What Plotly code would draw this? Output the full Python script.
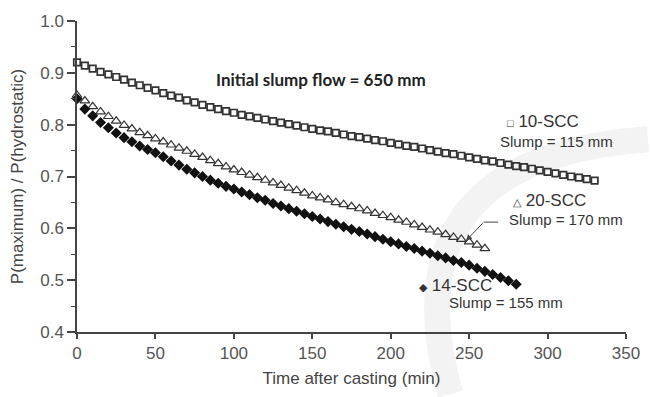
import plotly.graph_objects as go

# Time after casting (min), 5-min readings
t_10 = [i * 5 for i in range(67)]   # 0..330
t_20 = [i * 5 for i in range(53)]   # 0..260
t_14 = [i * 5 for i in range(57)]   # 0..280

scc10 = [0.920, 0.914, 0.908, 0.902, 0.897, 0.892, 0.887, 0.881, 0.876, 0.871,
         0.866, 0.861, 0.856, 0.852, 0.847, 0.843, 0.838, 0.834, 0.830, 0.826,
         0.823, 0.819, 0.816, 0.813, 0.810, 0.807, 0.804, 0.801, 0.798, 0.795,
         0.792, 0.789, 0.787, 0.784, 0.781, 0.778, 0.776, 0.773, 0.770, 0.768,
         0.765, 0.762, 0.759, 0.757, 0.754, 0.751, 0.748, 0.745, 0.743, 0.740,
         0.737, 0.734, 0.731, 0.729, 0.726, 0.723, 0.720, 0.718, 0.715, 0.712,
         0.709, 0.706, 0.703, 0.700, 0.698, 0.695, 0.692]

scc20 = [0.857, 0.846, 0.835, 0.825, 0.816, 0.807, 0.799, 0.792, 0.785, 0.779,
         0.773, 0.767, 0.761, 0.755, 0.749, 0.743, 0.737, 0.731, 0.725, 0.719,
         0.713, 0.708, 0.703, 0.698, 0.693, 0.688, 0.683, 0.678, 0.673, 0.668,
         0.663, 0.659, 0.655, 0.650, 0.646, 0.642, 0.638, 0.634, 0.629, 0.625,
         0.621, 0.616, 0.612, 0.607, 0.602, 0.597, 0.593, 0.588, 0.583, 0.579,
         0.574, 0.568, 0.561]

scc14 = [0.850, 0.830, 0.817, 0.804, 0.794, 0.784, 0.775, 0.767, 0.759, 0.752,
         0.746, 0.738, 0.730, 0.722, 0.714, 0.707, 0.700, 0.693, 0.687, 0.681,
         0.676, 0.670, 0.665, 0.659, 0.654, 0.648, 0.643, 0.638, 0.633, 0.628,
         0.623, 0.618, 0.613, 0.608, 0.603, 0.598, 0.594, 0.589, 0.584, 0.579,
         0.574, 0.570, 0.565, 0.561, 0.556, 0.552, 0.547, 0.543, 0.538, 0.534,
         0.529, 0.523, 0.517, 0.511, 0.505, 0.499, 0.492]

x_ticks = [0, 50, 100, 150, 200, 250, 300, 350]
y_ticks = [0.4, 0.5, 0.6, 0.7, 0.8, 0.9, 1.0]

DARK = "#333333"
FONT = "Liberation Sans, Arial, sans-serif"

fig = go.Figure()
fig.add_trace(go.Scatter(x=t_10, y=scc10, mode="markers", cliponaxis=False,
                         marker=dict(symbol="square-open", size=6.5, color=DARK,
                                     line=dict(width=1.7, color=DARK))))
fig.add_trace(go.Scatter(x=t_20, y=scc20, mode="markers", cliponaxis=False,
                         marker=dict(symbol="triangle-up-open", size=8.5, color=DARK,
                                     line=dict(width=1.2, color=DARK))))
fig.add_trace(go.Scatter(x=t_14, y=scc14, mode="markers", cliponaxis=False,
                         marker=dict(symbol="diamond", size=8.5, color="#111111",
                                     line=dict(width=0))))

def label(x, y, text, size=17):
    fig.add_annotation(x=x, y=y, xref="x", yref="y", text=text, showarrow=False,
                       xanchor="left", yanchor="middle",
                       font=dict(family=FONT, size=size, color="#333333"))

label(273, 0.807, '<span style="font-size:11px">□</span> 10-SCC')
label(268.5, 0.768, "Slump = 115 mm", 15)
label(277, 0.654, '<span style="font-size:11px">△</span> 20-SCC')
label(274, 0.617, "Slump = 170 mm", 15)
label(217, 0.489, '<span style="font-size:11px">◆</span> 14-SCC')
label(236, 0.456, "Slump = 155 mm", 15)

fig.add_annotation(x=155.5, y=0.888, xref="x", yref="y",
                   text="<b>Initial slump flow = 650 mm</b>", showarrow=False,
                   font=dict(family="Lato, Open Sans, sans-serif", size=17, color="#222222"))

# arrow pointing at 20-SCC series
fig.add_annotation(x=248, y=0.576, xref="x", yref="y", ax=18, ay=-19,
                   showarrow=True, arrowhead=2, arrowsize=1.2, arrowwidth=1,
                   arrowcolor="#444444", text="")
fig.add_shape(type="line", xref="x", yref="y", x0=259.2, x1=268.5, y0=0.612, y1=0.612,
              line=dict(color="#444444", width=1))

# faint background watermark arc
fig.add_shape(type="path", xref="paper", yref="paper", layer="below",
              path="M 0.68,-0.2 Q 0.56,0.56 1.04,0.62",
              line=dict(color="#f3f3f3", width=26))

axis_common = dict(showline=True, linecolor="#444444", linewidth=1.5,
                   ticks="outside", tickcolor="#444444", tickwidth=1.5,
                   showgrid=False, zeroline=False,
                   tickfont=dict(family=FONT, size=17, color="#555555"))

fig.update_xaxes(range=[0, 350], tickvals=x_ticks, ticklen=5,
                 title=dict(text="Time after casting (min)", standoff=10,
                            font=dict(family=FONT, size=17, color="#444444")),
                 **axis_common)
fig.update_yaxes(range=[0.4, 1.0], tickvals=y_ticks, tickformat=".1f", ticklen=8,
                 minor=dict(dtick=0.05, ticks="outside", ticklen=4,
                            tickcolor="#444444", tickwidth=1.2),
                 title=dict(text="P(maximum) / P(hydrostatic)", standoff=12,
                            font=dict(family=FONT, size=17, color="#444444")),
                 **axis_common)

fig.update_layout(width=652, height=397, showlegend=False,
                  margin=dict(l=77, r=17, t=18, b=62),
                  plot_bgcolor="white", paper_bgcolor="white")

fig.write_html("out.html")
